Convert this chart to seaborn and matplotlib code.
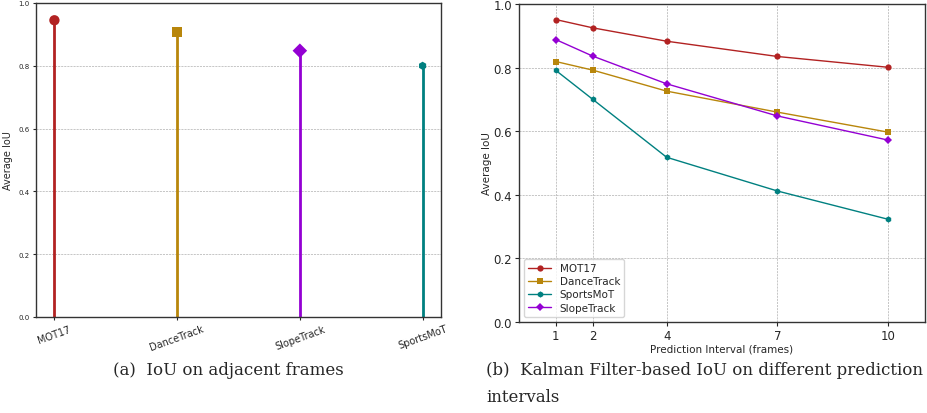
import numpy as np
import pandas as pd
import matplotlib
matplotlib.use("Agg")
import matplotlib.pyplot as plt
import seaborn as sns

# ---- data ----
datasets_a = ["MOT17", "DanceTrack", "SlopeTrack", "SportsMoT"]
iou_adjacent = [0.945, 0.908, 0.848, 0.800]

intervals = [1, 2, 4, 7, 10]
iou_mot17 = [0.951, 0.925, 0.883, 0.835, 0.801]
iou_dancetrack = [0.819, 0.792, 0.726, 0.660, 0.597]
iou_sportsmot = [0.791, 0.700, 0.518, 0.412, 0.323]
iou_slopetrack = [0.888, 0.836, 0.749, 0.648, 0.572]

colors = {"MOT17": "#b22222", "DanceTrack": "#b8860b",
          "SportsMoT": "#008080", "SlopeTrack": "#9400d3"}
markers = {"MOT17": "o", "DanceTrack": "s", "SportsMoT": "h", "SlopeTrack": "D"}

sns.set_style("white")
plt.rcParams["font.family"] = ["DejaVu Sans"]

fig = plt.figure(figsize=(9.27, 4.14), dpi=100)
W, H = 927, 414
axA = fig.add_axes([36 / W, (H - 318) / H, (441 - 36) / W, (318 - 4) / H])
axB = fig.add_axes([519 / W, (H - 323) / H, (925 - 519) / W, (323 - 5) / H])

gridstyle = dict(linestyle=(0, (2.5, 1.2)), color="#bdbdbd", lw=0.6)

# ---- panel (a) ----
dfA = pd.DataFrame({"dataset": datasets_a, "iou": iou_adjacent})
dfA["pos"] = np.arange(len(datasets_a))
for _, r in dfA.iterrows():
    axA.vlines(r["pos"], 0, r["iou"], color=colors[r["dataset"]], lw=2, zorder=2)
sizesA = {"MOT17": 55, "DanceTrack": 50, "SlopeTrack": 55, "SportsMoT": 35}
for d in datasets_a:
    sub = dfA[dfA["dataset"] == d]
    sns.scatterplot(data=sub, x="pos", y="iou", color=colors[d], marker=markers[d],
                    s=sizesA[d], edgecolor="none", legend=False, ax=axA, zorder=3)
axA.set_xlim(-0.15, 3.15)
axA.set_ylim(0, 1.0)
axA.set_xticks(dfA["pos"])
axA.set_xticklabels(datasets_a, rotation=20, fontsize=7)
axA.set_yticks([0, 0.2, 0.4, 0.6, 0.8, 1.0])
axA.set_yticklabels(["0.0", "0.2", "0.4", "0.6", "0.8", "1.0"], fontsize=5)
axA.tick_params(axis="both", length=2.5, width=0.8, pad=2, bottom=True, left=True)
axA.set_xlabel("")
axA.set_ylabel("Average IoU", fontsize=7, labelpad=4)
axA.yaxis.grid(True, **gridstyle)
axA.xaxis.grid(False)
axA.set_axisbelow(True)
for s in axA.spines.values():
    s.set_color("#333333")
    s.set_linewidth(1.0)

# ---- panel (b) ----
dfB = pd.concat([
    pd.DataFrame({"interval": intervals, "iou": iou_mot17, "dataset": "MOT17"}),
    pd.DataFrame({"interval": intervals, "iou": iou_dancetrack, "dataset": "DanceTrack"}),
    pd.DataFrame({"interval": intervals, "iou": iou_sportsmot, "dataset": "SportsMoT"}),
    pd.DataFrame({"interval": intervals, "iou": iou_slopetrack, "dataset": "SlopeTrack"}),
])
sns.lineplot(data=dfB, x="interval", y="iou", hue="dataset", style="dataset",
             palette=colors, markers=markers, dashes=False, lw=1.0,
             markersize=4.5, markeredgewidth=0, ax=axB)
axB.set_xlim(0, 11)
axB.set_ylim(0, 1.0)
axB.set_xticks(intervals)
axB.set_xticklabels([str(v) for v in intervals], fontsize=8.5)
axB.set_yticks([0, 0.2, 0.4, 0.6, 0.8, 1.0])
axB.set_yticklabels(["0.0", "0.2", "0.4", "0.6", "0.8", "1.0"], fontsize=8.5)
axB.tick_params(axis="both", length=3, width=0.8, pad=2, bottom=True, left=True)
axB.set_xlabel("Prediction Interval (frames)", fontsize=7.5, labelpad=1)
axB.set_ylabel("Average IoU", fontsize=7.5, labelpad=1)
axB.grid(True, **gridstyle)
axB.set_axisbelow(True)
for s in axB.spines.values():
    s.set_color("#333333")
    s.set_linewidth(1.0)
leg = axB.legend(loc="lower left", fontsize=7.5, frameon=True, handlelength=2.2,
                 borderpad=0.4, labelspacing=0.3)
leg.get_frame().set_edgecolor("#cccccc")

# ---- captions ----
fig.text(228 / W, 1 - 371 / H, "(a)  IoU on adjacent frames", ha="center",
         va="center", fontsize=12, family="DejaVu Serif")
fig.text(486 / W, 1 - 371 / H, "(b)  Kalman Filter-based IoU on different prediction",
         ha="left", va="center", fontsize=12, family="DejaVu Serif")
fig.text(486 / W, 1 - 398 / H, "intervals", ha="left", va="center",
         fontsize=12, family="DejaVu Serif")

fig.savefig("out.png", dpi=100)
